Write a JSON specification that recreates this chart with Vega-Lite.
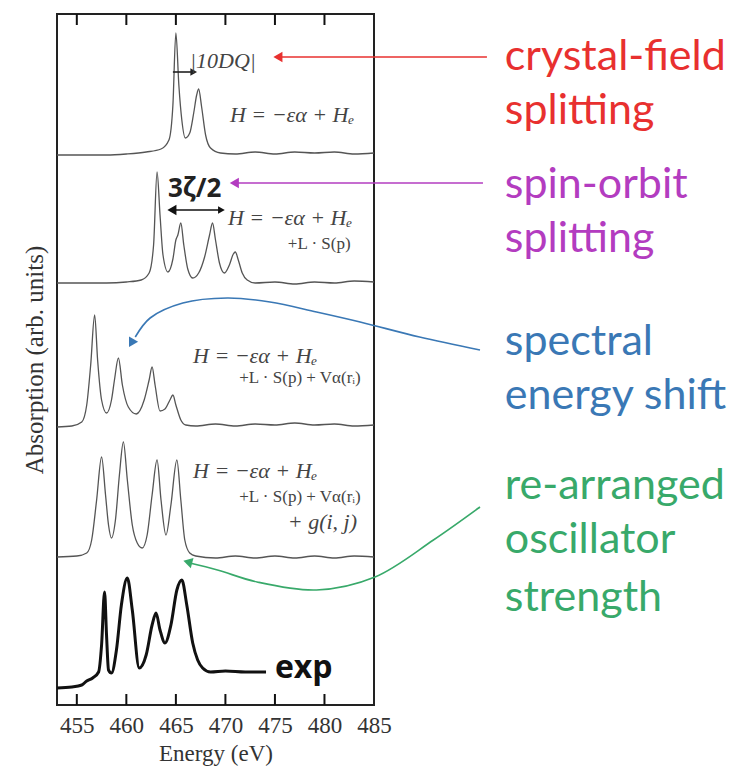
{
  "$schema": "https://vega.github.io/schema/vega-lite/v6.json",
  "autosize": {"type": "none"},
  "width": 317,
  "height": 691,
  "padding": {"left": 57, "top": 14, "right": 370, "bottom": 67},
  "background": "white",
  "config": {
    "view": {"stroke": "#222", "strokeWidth": 2},
    "font": "Liberation Serif"
  },
  "datasets": {
    "ticks": [
      {"energy": 455}, {"energy": 460}, {"energy": 465}, {"energy": 470}, {"energy": 475}, {"energy": 480}
    ],
    "spectra": [
      {"panel": "crystal field", "energy": 453, "absorption": 550},
      {"panel": "crystal field", "energy": 458, "absorption": 550},
      {"panel": "crystal field", "energy": 460, "absorption": 551},
      {"panel": "crystal field", "energy": 462, "absorption": 553},
      {"panel": "crystal field", "energy": 463.5, "absorption": 556},
      {"panel": "crystal field", "energy": 464.3, "absorption": 565},
      {"panel": "crystal field", "energy": 464.7, "absorption": 600},
      {"panel": "crystal field", "energy": 465.0, "absorption": 672},
      {"panel": "crystal field", "energy": 465.3, "absorption": 620},
      {"panel": "crystal field", "energy": 465.6, "absorption": 585},
      {"panel": "crystal field", "energy": 465.95, "absorption": 567},
      {"panel": "crystal field", "energy": 466.4, "absorption": 572},
      {"panel": "crystal field", "energy": 466.8, "absorption": 592},
      {"panel": "crystal field", "energy": 467.1, "absorption": 610},
      {"panel": "crystal field", "energy": 467.3, "absorption": 616},
      {"panel": "crystal field", "energy": 467.6, "absorption": 598},
      {"panel": "crystal field", "energy": 468.0, "absorption": 570},
      {"panel": "crystal field", "energy": 468.5, "absorption": 557},
      {"panel": "crystal field", "energy": 469.5, "absorption": 552},
      {"panel": "crystal field", "energy": 471, "absorption": 551},
      {"panel": "crystal field", "energy": 473, "absorption": 553},
      {"panel": "crystal field", "energy": 475, "absorption": 551},
      {"panel": "crystal field", "energy": 477, "absorption": 553},
      {"panel": "crystal field", "energy": 479, "absorption": 552},
      {"panel": "crystal field", "energy": 481, "absorption": 553},
      {"panel": "crystal field", "energy": 483, "absorption": 551},
      {"panel": "crystal field", "energy": 485, "absorption": 552},

      {"panel": "spin-orbit", "energy": 453, "absorption": 422},
      {"panel": "spin-orbit", "energy": 458, "absorption": 422},
      {"panel": "spin-orbit", "energy": 460, "absorption": 423},
      {"panel": "spin-orbit", "energy": 461.5, "absorption": 425},
      {"panel": "spin-orbit", "energy": 462.3, "absorption": 432},
      {"panel": "spin-orbit", "energy": 462.75, "absorption": 460},
      {"panel": "spin-orbit", "energy": 463.1, "absorption": 533},
      {"panel": "spin-orbit", "energy": 463.4, "absorption": 490},
      {"panel": "spin-orbit", "energy": 463.7, "absorption": 450},
      {"panel": "spin-orbit", "energy": 464.2, "absorption": 433},
      {"panel": "spin-orbit", "energy": 464.7, "absorption": 446},
      {"panel": "spin-orbit", "energy": 465.0, "absorption": 465},
      {"panel": "spin-orbit", "energy": 465.2, "absorption": 470},
      {"panel": "spin-orbit", "energy": 465.5, "absorption": 482},
      {"panel": "spin-orbit", "energy": 465.8, "absorption": 460},
      {"panel": "spin-orbit", "energy": 466.2, "absorption": 436},
      {"panel": "spin-orbit", "energy": 466.7, "absorption": 427},
      {"panel": "spin-orbit", "energy": 467.3, "absorption": 432},
      {"panel": "spin-orbit", "energy": 467.9, "absorption": 448},
      {"panel": "spin-orbit", "energy": 468.4, "absorption": 470},
      {"panel": "spin-orbit", "energy": 468.7, "absorption": 482},
      {"panel": "spin-orbit", "energy": 469.0, "absorption": 465},
      {"panel": "spin-orbit", "energy": 469.4, "absorption": 442},
      {"panel": "spin-orbit", "energy": 469.9, "absorption": 432},
      {"panel": "spin-orbit", "energy": 470.4, "absorption": 440},
      {"panel": "spin-orbit", "energy": 470.8, "absorption": 451},
      {"panel": "spin-orbit", "energy": 471.0, "absorption": 453},
      {"panel": "spin-orbit", "energy": 471.3, "absorption": 445},
      {"panel": "spin-orbit", "energy": 471.7, "absorption": 432},
      {"panel": "spin-orbit", "energy": 472.2, "absorption": 425},
      {"panel": "spin-orbit", "energy": 473, "absorption": 422},
      {"panel": "spin-orbit", "energy": 475, "absorption": 423},
      {"panel": "spin-orbit", "energy": 477, "absorption": 421},
      {"panel": "spin-orbit", "energy": 479, "absorption": 423},
      {"panel": "spin-orbit", "energy": 481, "absorption": 422},
      {"panel": "spin-orbit", "energy": 483, "absorption": 424},
      {"panel": "spin-orbit", "energy": 485, "absorption": 423},

      {"panel": "core potential", "energy": 453, "absorption": 278},
      {"panel": "core potential", "energy": 454.5, "absorption": 279},
      {"panel": "core potential", "energy": 455.5, "absorption": 283},
      {"panel": "core potential", "energy": 456.0, "absorption": 300},
      {"panel": "core potential", "energy": 456.4, "absorption": 340},
      {"panel": "core potential", "energy": 456.8, "absorption": 390},
      {"panel": "core potential", "energy": 457.1, "absorption": 345},
      {"panel": "core potential", "energy": 457.5, "absorption": 305},
      {"panel": "core potential", "energy": 458.0, "absorption": 292},
      {"panel": "core potential", "energy": 458.5, "absorption": 305},
      {"panel": "core potential", "energy": 458.8, "absorption": 325},
      {"panel": "core potential", "energy": 459.2, "absorption": 347},
      {"panel": "core potential", "energy": 459.6, "absorption": 320},
      {"panel": "core potential", "energy": 460.2, "absorption": 298},
      {"panel": "core potential", "energy": 461.0, "absorption": 291},
      {"panel": "core potential", "energy": 461.8, "absorption": 305},
      {"panel": "core potential", "energy": 462.3, "absorption": 325},
      {"panel": "core potential", "energy": 462.6, "absorption": 338},
      {"panel": "core potential", "energy": 462.9, "absorption": 320},
      {"panel": "core potential", "energy": 463.4, "absorption": 294},
      {"panel": "core potential", "energy": 463.9, "absorption": 296},
      {"panel": "core potential", "energy": 464.4, "absorption": 305},
      {"panel": "core potential", "energy": 464.7, "absorption": 310},
      {"panel": "core potential", "energy": 465.0, "absorption": 300},
      {"panel": "core potential", "energy": 465.5, "absorption": 285},
      {"panel": "core potential", "energy": 466.0, "absorption": 280},
      {"panel": "core potential", "energy": 467, "absorption": 279},
      {"panel": "core potential", "energy": 469, "absorption": 281},
      {"panel": "core potential", "energy": 471, "absorption": 279},
      {"panel": "core potential", "energy": 473, "absorption": 281},
      {"panel": "core potential", "energy": 475, "absorption": 280},
      {"panel": "core potential", "energy": 477, "absorption": 282},
      {"panel": "core potential", "energy": 479, "absorption": 280},
      {"panel": "core potential", "energy": 481, "absorption": 281},
      {"panel": "core potential", "energy": 483, "absorption": 279},
      {"panel": "core potential", "energy": 485, "absorption": 280},

      {"panel": "full", "energy": 453, "absorption": 148},
      {"panel": "full", "energy": 455, "absorption": 149},
      {"panel": "full", "energy": 456, "absorption": 152},
      {"panel": "full", "energy": 456.5, "absorption": 165},
      {"panel": "full", "energy": 457.0, "absorption": 205},
      {"panel": "full", "energy": 457.5, "absorption": 248},
      {"panel": "full", "energy": 457.9, "absorption": 210},
      {"panel": "full", "energy": 458.2, "absorption": 180},
      {"panel": "full", "energy": 458.5, "absorption": 167},
      {"panel": "full", "energy": 458.9, "absorption": 185},
      {"panel": "full", "energy": 459.3, "absorption": 230},
      {"panel": "full", "energy": 459.7, "absorption": 263},
      {"panel": "full", "energy": 460.1, "absorption": 225},
      {"panel": "full", "energy": 460.6, "absorption": 180},
      {"panel": "full", "energy": 461.1, "absorption": 162},
      {"panel": "full", "energy": 461.6, "absorption": 157},
      {"panel": "full", "energy": 462.1, "absorption": 170},
      {"panel": "full", "energy": 462.6, "absorption": 210},
      {"panel": "full", "energy": 463.1, "absorption": 245},
      {"panel": "full", "energy": 463.5, "absorption": 205},
      {"panel": "full", "energy": 464.0, "absorption": 170},
      {"panel": "full", "energy": 464.5, "absorption": 200},
      {"panel": "full", "energy": 465.1, "absorption": 245},
      {"panel": "full", "energy": 465.5, "absorption": 205},
      {"panel": "full", "energy": 465.9, "absorption": 165},
      {"panel": "full", "energy": 466.4, "absorption": 152},
      {"panel": "full", "energy": 467, "absorption": 149},
      {"panel": "full", "energy": 469, "absorption": 147},
      {"panel": "full", "energy": 471, "absorption": 149},
      {"panel": "full", "energy": 473, "absorption": 147},
      {"panel": "full", "energy": 475, "absorption": 149},
      {"panel": "full", "energy": 477, "absorption": 147},
      {"panel": "full", "energy": 479, "absorption": 149},
      {"panel": "full", "energy": 481, "absorption": 147},
      {"panel": "full", "energy": 483, "absorption": 149},
      {"panel": "full", "energy": 485, "absorption": 148},

      {"panel": "exp", "energy": 453, "absorption": 17},
      {"panel": "exp", "energy": 454.5, "absorption": 18},
      {"panel": "exp", "energy": 455.5, "absorption": 20},
      {"panel": "exp", "energy": 456.0, "absorption": 24},
      {"panel": "exp", "energy": 456.6, "absorption": 27},
      {"panel": "exp", "energy": 457.2, "absorption": 33},
      {"panel": "exp", "energy": 457.5, "absorption": 60},
      {"panel": "exp", "energy": 457.8, "absorption": 113},
      {"panel": "exp", "energy": 458.0, "absorption": 70},
      {"panel": "exp", "energy": 458.2, "absorption": 35},
      {"panel": "exp", "energy": 458.5, "absorption": 32},
      {"panel": "exp", "energy": 459.0, "absorption": 55},
      {"panel": "exp", "energy": 459.5, "absorption": 100},
      {"panel": "exp", "energy": 460.1, "absorption": 127},
      {"panel": "exp", "energy": 460.6, "absorption": 95},
      {"panel": "exp", "energy": 461.3, "absorption": 37},
      {"panel": "exp", "energy": 462.0, "absorption": 50},
      {"panel": "exp", "energy": 462.6, "absorption": 80},
      {"panel": "exp", "energy": 463.0, "absorption": 92},
      {"panel": "exp", "energy": 463.4, "absorption": 75},
      {"panel": "exp", "energy": 463.9, "absorption": 62},
      {"panel": "exp", "energy": 464.5, "absorption": 80},
      {"panel": "exp", "energy": 465.1, "absorption": 115},
      {"panel": "exp", "energy": 465.6, "absorption": 125},
      {"panel": "exp", "energy": 466.1, "absorption": 100},
      {"panel": "exp", "energy": 466.7, "absorption": 62},
      {"panel": "exp", "energy": 467.2, "absorption": 45},
      {"panel": "exp", "energy": 467.7, "absorption": 37},
      {"panel": "exp", "energy": 468.5, "absorption": 33},
      {"panel": "exp", "energy": 470, "absorption": 34},
      {"panel": "exp", "energy": 472, "absorption": 33},
      {"panel": "exp", "energy": 474.1, "absorption": 33}
    ],
    "arrows": [
      {"arrow": "crystal-field", "order": 1, "energy": 496.4, "absorption": 648},
      {"arrow": "crystal-field", "order": 2, "energy": 475.4, "absorption": 648},
      {"arrow": "spin-orbit", "order": 1, "energy": 496.0, "absorption": 522},
      {"arrow": "spin-orbit", "order": 2, "energy": 471.0, "absorption": 522},
      {"arrow": "energy shift", "order": 1, "energy": 495.7, "absorption": 355},
      {"arrow": "energy shift", "order": 2, "energy": 489.6, "absorption": 368},
      {"arrow": "energy shift", "order": 3, "energy": 483.6, "absorption": 383},
      {"arrow": "energy shift", "order": 4, "energy": 479.2, "absorption": 393},
      {"arrow": "energy shift", "order": 5, "energy": 474.5, "absorption": 403},
      {"arrow": "energy shift", "order": 6, "energy": 470.2, "absorption": 407},
      {"arrow": "energy shift", "order": 7, "energy": 465.7, "absorption": 402},
      {"arrow": "energy shift", "order": 8, "energy": 462.4, "absorption": 387},
      {"arrow": "energy shift", "order": 9, "energy": 460.9, "absorption": 368},
      {"arrow": "oscillator", "order": 1, "energy": 495.7, "absorption": 198},
      {"arrow": "oscillator", "order": 2, "energy": 491.0, "absorption": 165},
      {"arrow": "oscillator", "order": 3, "energy": 485.1, "absorption": 128},
      {"arrow": "oscillator", "order": 4, "energy": 479.2, "absorption": 115},
      {"arrow": "oscillator", "order": 5, "energy": 473.2, "absorption": 123},
      {"arrow": "oscillator", "order": 6, "energy": 469.2, "absorption": 135},
      {"arrow": "oscillator", "order": 7, "energy": 466.4, "absorption": 142},
      {"arrow": "10DQ", "order": 1, "energy": 464.7, "absorption": 633},
      {"arrow": "10DQ", "order": 2, "energy": 466.8, "absorption": 633},
      {"arrow": "3zeta", "order": 1, "energy": 464.5, "absorption": 495},
      {"arrow": "3zeta", "order": 2, "energy": 469.7, "absorption": 495}
    ],
    "heads": [
      {"arrow": "crystal-field", "dir": "left", "energy": 475.3, "absorption": 648},
      {"arrow": "spin-orbit", "dir": "left", "energy": 470.9, "absorption": 522},
      {"arrow": "10DQ", "dir": "right", "energy": 466.8, "absorption": 633},
      {"arrow": "3zeta", "dir": "right", "energy": 469.6, "absorption": 495},
      {"arrow": "3zeta", "dir": "left", "energy": 464.6, "absorption": 495},
      {"arrow": "energy shift", "dir": "downleft", "energy": 460.5, "absorption": 362},
      {"arrow": "oscillator", "dir": "upleft", "energy": 466.2, "absorption": 143}
    ],
    "notes": [
      {"kind": "formula", "text": "H = −εα + Hₑ", "energy": 470.46, "absorption": 583},
      {"kind": "formula", "text": "H = −εα + Hₑ", "energy": 470.26, "absorption": 480},
      {"kind": "term", "text": "+L · S(p)", "energy": 476.3, "absorption": 456},
      {"kind": "formula", "text": "H = −εα + Hₑ", "energy": 466.73, "absorption": 342},
      {"kind": "term", "text": "+L · S(p) + Vα(rᵢ)", "energy": 471.4, "absorption": 322},
      {"kind": "formula", "text": "H = −εα + Hₑ", "energy": 466.73, "absorption": 227},
      {"kind": "term", "text": "+L · S(p) + Vα(rᵢ)", "energy": 471.4, "absorption": 203},
      {"kind": "formula", "text": "+ g(i, j)", "energy": 476.3, "absorption": 176},
      {"kind": "formula", "text": "|10DQ|", "energy": 466.43, "absorption": 637},
      {"kind": "bold", "text": "3ζ/2", "energy": 464.2, "absorption": 508},
      {"kind": "exp", "text": "exp", "energy": 475.0, "absorption": 27}
    ],
    "labels": [
      {"group": "crystal-field", "text": "crystal-field", "energy": 498.2, "absorption": 635},
      {"group": "crystal-field", "text": "splitting", "energy": 498.2, "absorption": 581},
      {"group": "spin-orbit", "text": "spin-orbit", "energy": 498.2, "absorption": 507},
      {"group": "spin-orbit", "text": "splitting", "energy": 498.2, "absorption": 453},
      {"group": "energy shift", "text": "spectral", "energy": 498.2, "absorption": 350},
      {"group": "energy shift", "text": "energy shift", "energy": 498.2, "absorption": 296},
      {"group": "oscillator", "text": "re-arranged", "energy": 498.2, "absorption": 206},
      {"group": "oscillator", "text": "oscillator", "energy": 498.2, "absorption": 152},
      {"group": "oscillator", "text": "strength", "energy": 498.2, "absorption": 94}
    ]
  },
  "layer": [
    {
      "data": {"name": "spectra"},
      "transform": [{"filter": "datum.panel !== 'exp'"}],
      "mark": {"type": "line", "color": "#555", "strokeWidth": 1.3, "interpolate": "monotone"},
      "encoding": {
        "x": {
          "field": "energy", "type": "quantitative",
          "scale": {"domain": [453, 485], "nice": false, "zero": false},
          "axis": {
            "orient": "bottom", "values": [455, 460, 465, 470, 475, 480, 485],
            "domain": false, "grid": false, "ticks": false,
            "labelFont": "Liberation Serif", "labelFontSize": 23, "labelColor": "#333",
            "labelPadding": 9, "labelFlush": false,
            "title": "Energy (eV)", "titleFont": "Liberation Serif", "titleFontSize": 23,
            "titleFontWeight": "normal", "titleColor": "#333", "titlePadding": 5
          }
        },
        "y": {
          "field": "absorption", "type": "quantitative",
          "scale": {"domain": [0, 691], "nice": false, "zero": false},
          "axis": {
            "labels": false, "ticks": false, "domain": false, "grid": false,
            "title": "Absorption (arb. units)", "titleFont": "Liberation Serif",
            "titleFontSize": 25, "titleFontWeight": "normal", "titleColor": "#333", "titlePadding": 10
          }
        },
        "detail": {"field": "panel"}
      }
    },
    {
      "data": {"name": "ticks"},
      "mark": {"type": "rule", "color": "#111", "strokeWidth": 2},
      "encoding": {
        "x": {"field": "energy", "type": "quantitative"},
        "y": {"datum": 0},
        "y2": {"datum": 11}
      }
    },
    {
      "data": {"name": "ticks"},
      "mark": {"type": "rule", "color": "#111", "strokeWidth": 2},
      "encoding": {
        "x": {"field": "energy", "type": "quantitative"},
        "y": {"datum": 680},
        "y2": {"datum": 691}
      }
    },
    {
      "data": {"name": "spectra"},
      "transform": [{"filter": "datum.panel === 'exp'"}],
      "mark": {"type": "line", "color": "#111", "strokeWidth": 3, "interpolate": "monotone"},
      "encoding": {
        "x": {"field": "energy", "type": "quantitative"},
        "y": {"field": "absorption", "type": "quantitative"}
      }
    },
    {
      "data": {"name": "arrows"},
      "mark": {"type": "line", "strokeWidth": 1.6, "interpolate": "catmull-rom"},
      "encoding": {
        "x": {"field": "energy", "type": "quantitative"},
        "y": {"field": "absorption", "type": "quantitative"},
        "order": {"field": "order", "type": "quantitative"},
        "detail": {"field": "arrow"},
        "color": {
          "field": "arrow", "type": "nominal", "legend": null,
          "scale": {
            "domain": ["crystal-field", "spin-orbit", "energy shift", "oscillator", "10DQ", "3zeta"],
            "range": ["#e8302f", "#b33cc0", "#3a78b5", "#38a96a", "#222222", "#111111"]
          }
        }
      }
    },
    {
      "data": {"name": "heads"},
      "transform": [{"filter": "datum.dir === 'left'"}],
      "mark": {"type": "point", "shape": "triangle-left", "filled": true, "opacity": 1, "size": 110},
      "encoding": {
        "x": {"field": "energy", "type": "quantitative"},
        "y": {"field": "absorption", "type": "quantitative"},
        "color": {"field": "arrow", "type": "nominal", "legend": null}
      }
    },
    {
      "data": {"name": "heads"},
      "transform": [{"filter": "datum.dir === 'right'"}],
      "mark": {"type": "point", "shape": "triangle-right", "filled": true, "opacity": 1, "size": 60},
      "encoding": {
        "x": {"field": "energy", "type": "quantitative"},
        "y": {"field": "absorption", "type": "quantitative"},
        "color": {"field": "arrow", "type": "nominal", "legend": null}
      }
    },
    {
      "data": {"name": "heads"},
      "transform": [{"filter": "datum.dir === 'downleft'"}],
      "mark": {"type": "point", "shape": "triangle-up", "angle": 210, "filled": true, "opacity": 1, "size": 110},
      "encoding": {
        "x": {"field": "energy", "type": "quantitative"},
        "y": {"field": "absorption", "type": "quantitative"},
        "color": {"field": "arrow", "type": "nominal", "legend": null}
      }
    },
    {
      "data": {"name": "heads"},
      "transform": [{"filter": "datum.dir === 'upleft'"}],
      "mark": {"type": "point", "shape": "triangle-up", "angle": 285, "filled": true, "opacity": 1, "size": 110},
      "encoding": {
        "x": {"field": "energy", "type": "quantitative"},
        "y": {"field": "absorption", "type": "quantitative"},
        "color": {"field": "arrow", "type": "nominal", "legend": null}
      }
    },
    {
      "data": {"name": "notes"},
      "transform": [{"filter": "datum.kind === 'formula'"}],
      "mark": {"type": "text", "align": "left", "baseline": "alphabetic", "font": "Liberation Serif", "fontStyle": "italic", "fontSize": 22, "color": "#444"},
      "encoding": {
        "x": {"field": "energy", "type": "quantitative"},
        "y": {"field": "absorption", "type": "quantitative"},
        "text": {"field": "text"}
      }
    },
    {
      "data": {"name": "notes"},
      "transform": [{"filter": "datum.kind === 'term'"}],
      "mark": {"type": "text", "align": "left", "baseline": "alphabetic", "font": "Liberation Serif", "fontSize": 17, "color": "#444"},
      "encoding": {
        "x": {"field": "energy", "type": "quantitative"},
        "y": {"field": "absorption", "type": "quantitative"},
        "text": {"field": "text"}
      }
    },
    {
      "data": {"name": "notes"},
      "transform": [{"filter": "datum.kind === 'bold'"}],
      "mark": {"type": "text", "align": "left", "baseline": "alphabetic", "font": "Open Sans", "fontWeight": "bold", "fontSize": 26, "color": "#222"},
      "encoding": {
        "x": {"field": "energy", "type": "quantitative"},
        "y": {"field": "absorption", "type": "quantitative"},
        "text": {"field": "text"}
      }
    },
    {
      "data": {"name": "notes"},
      "transform": [{"filter": "datum.kind === 'exp'"}],
      "mark": {"type": "text", "align": "left", "baseline": "alphabetic", "font": "Open Sans", "fontWeight": "bold", "fontSize": 32, "color": "#111"},
      "encoding": {
        "x": {"field": "energy", "type": "quantitative"},
        "y": {"field": "absorption", "type": "quantitative"},
        "text": {"field": "text"}
      }
    },
    {
      "data": {"name": "labels"},
      "mark": {"type": "text", "align": "left", "baseline": "alphabetic", "font": "Lato", "fontSize": 43},
      "encoding": {
        "x": {"field": "energy", "type": "quantitative"},
        "y": {"field": "absorption", "type": "quantitative"},
        "text": {"field": "text"},
        "color": {
          "field": "group", "type": "nominal", "legend": null,
          "scale": {
            "domain": ["crystal-field", "spin-orbit", "energy shift", "oscillator"],
            "range": ["#e3262f", "#7e2b8c", "#2e72b3", "#2f9e5c"]
          }
        }
      }
    }
  ]
}
